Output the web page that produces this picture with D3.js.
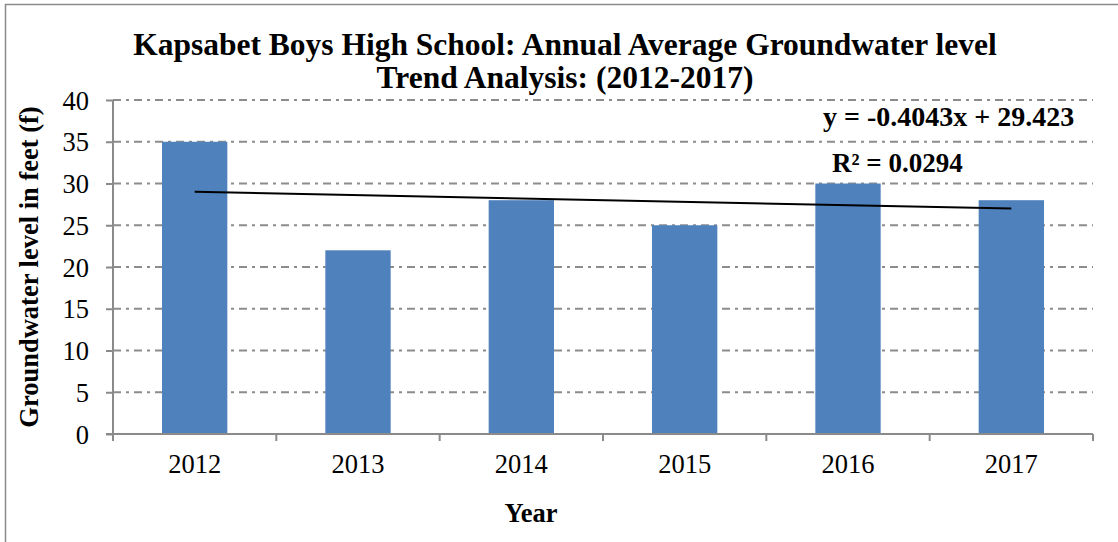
<!DOCTYPE html>
<html>
<head>
<meta charset="utf-8">
<script src="https://cdn.jsdelivr.net/npm/d3@7"></script>
<style>
  body { margin: 0; background: #fff; }
  svg text { font-family: "Liberation Serif", "Times New Roman", serif; fill: #000; }
</style>
</head>
<body>
<div id="chart"></div>
<script>
// chart data
var years = ["2012", "2013", "2014", "2015", "2016", "2017"];
var levels = [35, 22, 28, 25, 30, 28];
var yTicks = [0, 5, 10, 15, 20, 25, 30, 35, 40];
// trend line as reported on the chart
var trendSlope = -0.4043;
var trendIntercept = 29.423;
var trendLabel = "y = -0.4043x + 29.423";
var r2Label = "R² = 0.0294";

var svgWidth = 1118;
var svgHeight = 542;
var serif = "'Liberation Serif', 'Times New Roman', serif";

var margin = { top: 100, right: 25, bottom: 108, left: 113 };
var width = svgWidth - margin.left - margin.right;
var height = svgHeight - margin.top - margin.bottom;

var svg = d3.select("#chart")
  .append("svg")
  .attr("width", svgWidth)
  .attr("height", svgHeight);

// outer frame (right/bottom edges fall outside the picture)
svg.append("rect")
  .attr("x", 5.5).attr("y", 4.5)
  .attr("width", 1130).attr("height", 560)
  .attr("fill", "none")
  .attr("stroke", "#8a8a8a")
  .attr("stroke-width", 1.5);

var chartGroup = svg.append("g")
  .attr("transform", `translate(${margin.left}, ${margin.top})`);

var xBand = d3.scaleBand()
  .domain(years)
  .range([0, width])
  .paddingInner(0.6)
  .paddingOuter(0.3);

var yLinear = d3.scaleLinear()
  .domain([0, 40])
  .range([height, 0]);

// gridlines
chartGroup.append("g")
  .selectAll("line")
  .data(yTicks.filter(d => d > 0))
  .enter()
  .append("line")
  .attr("x1", 0)
  .attr("x2", width)
  .attr("y1", d => yLinear(d))
  .attr("y2", d => yLinear(d))
  .attr("stroke", "#8c8c8c")
  .attr("stroke-width", 2)
  .attr("stroke-dasharray", "8,5,3,5");

// bars
chartGroup.append("g")
  .selectAll("rect")
  .data(years)
  .enter()
  .append("rect")
  .attr("x", d => xBand(d))
  .attr("y", (d, i) => yLinear(levels[i]))
  .attr("width", xBand.bandwidth())
  .attr("height", (d, i) => height - yLinear(levels[i]))
  .attr("fill", "#4f81bd");

// axes
var leftAxis = d3.axisLeft(yLinear)
  .tickValues(yTicks)
  .tickSize(7)
  .tickPadding(17);

var yAxis = chartGroup.append("g").call(leftAxis);
yAxis.select(".domain").attr("stroke", "#8a8a8a").attr("stroke-width", 2)
  .attr("d", `M0,0V${height}`);
yAxis.selectAll(".tick line").attr("stroke", "#8a8a8a").attr("stroke-width", 2);
yAxis.selectAll(".tick text")
  .style("font-family", serif)
  .style("font-size", "26.5px")
  .attr("dy", "0.34em");

// x axis: ticks at category boundaries
var step = width / years.length;
var xAxis = chartGroup.append("g")
  .attr("transform", `translate(0, ${height})`);
xAxis.append("line")
  .attr("x1", -7).attr("x2", width)
  .attr("stroke", "#8a8a8a").attr("stroke-width", 2);
xAxis.selectAll(".xtick")
  .data(d3.range(years.length + 1))
  .enter()
  .append("line")
  .attr("class", "xtick")
  .attr("x1", d => d * step).attr("x2", d => d * step)
  .attr("y1", 0).attr("y2", 7)
  .attr("stroke", "#8a8a8a").attr("stroke-width", 2);
xAxis.selectAll(".xlabel")
  .data(years)
  .enter()
  .append("text")
  .attr("class", "xlabel")
  .attr("x", d => xBand(d) + xBand.bandwidth() / 2)
  .attr("y", 39)
  .attr("text-anchor", "middle")
  .style("font-family", serif)
  .style("font-size", "26.5px")
  .text(d => d);

// trend line
var xIdx = d3.scaleLinear()
  .domain([1, years.length])
  .range([xBand(years[0]) + xBand.bandwidth() / 2,
          xBand(years[years.length - 1]) + xBand.bandwidth() / 2]);
chartGroup.append("line")
  .attr("x1", xIdx(1))
  .attr("y1", yLinear(trendSlope * 1 + trendIntercept))
  .attr("x2", xIdx(years.length))
  .attr("y2", yLinear(trendSlope * years.length + trendIntercept))
  .attr("stroke", "#000")
  .attr("stroke-width", 2);

// trend labels
svg.append("text")
  .attr("x", 823).attr("y", 126)
  .style("font-family", serif)
  .style("font-size", "28px").style("font-weight", "bold")
  .text(trendLabel);
svg.append("text")
  .attr("x", 832).attr("y", 172)
  .style("font-family", serif)
  .style("font-size", "27px").style("font-weight", "bold")
  .text(r2Label);

// title
var title = svg.append("text")
  .attr("text-anchor", "middle")
  .style("font-family", serif)
  .style("font-size", "31.5px")
  .style("font-weight", "bold");
title.append("tspan").attr("x", 565).attr("y", 55)
  .text("Kapsabet Boys High School: Annual Average Groundwater level");
title.append("tspan").attr("x", 565).attr("y", 88)
  .text("Trend Analysis: (2012-2017)");

// axis titles
svg.append("text")
  .attr("x", 531).attr("y", 522)
  .attr("text-anchor", "middle")
  .style("font-family", serif)
  .style("font-size", "26.5px").style("font-weight", "bold")
  .text("Year");

svg.append("text")
  .attr("transform", "translate(38, 267) rotate(-90)")
  .attr("text-anchor", "middle")
  .style("font-family", serif)
  .style("font-size", "26.5px").style("font-weight", "bold")
  .text("Groundwater level in feet (f)");
</script>
</body>
</html>
